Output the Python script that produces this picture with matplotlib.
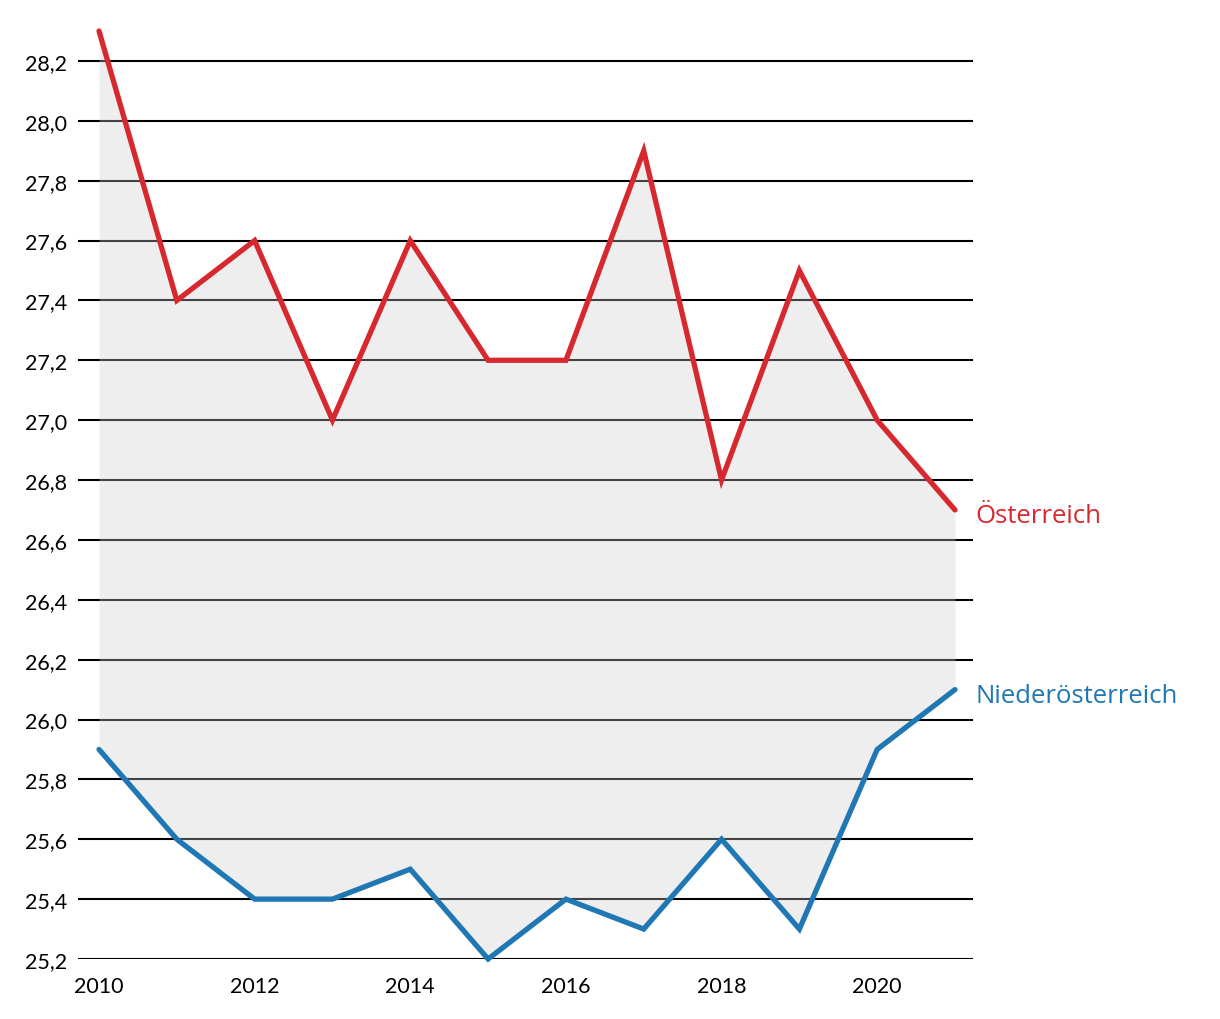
# Grafica de lineas: Oesterreich vs Niederoesterreich 2010-2021
import numpy as np
import matplotlib
matplotlib.use('Agg')
import matplotlib.pyplot as plt

plt.rcParams['font.family'] = ['Lato', 'DejaVu Sans']

# Datos
anios = [2010, 2011, 2012, 2013, 2014, 2015, 2016, 2017, 2018, 2019, 2020, 2021]
oesterreich = [28.3, 27.4, 27.6, 27.0, 27.6, 27.2, 27.2, 27.9, 26.8, 27.5, 27.0, 26.7]
niederoesterreich = [25.9, 25.6, 25.4, 25.4, 25.5, 25.2, 25.4, 25.3, 25.6, 25.3, 25.9, 26.1]
y_ticks = [25.2, 25.4, 25.6, 25.8, 26.0, 26.2, 26.4, 26.6, 26.8, 27.0, 27.2, 27.4, 27.6, 27.8, 28.0, 28.2]
x_ticks = [2010, 2012, 2014, 2016, 2018, 2020]

rojo = '#d7282f'
azul = '#1f77b4'

fig = plt.figure(figsize=(12.2, 10.2), dpi=100)
ax = fig.add_axes([78/1220, 60/1020, (973-78)/1220, (960-32)/1020])

ax.set_xlim(2010 - 21/77.8, 2021 + 18/77.8)
ax.set_ylim(25.2, 28.3)

# Lineas horizontales
for y in y_ticks:
    ax.axhline(y, color='black', lw=1.5, zorder=1)

# Area entre las dos series
ax.fill_between(anios, niederoesterreich, oesterreich, color='#cccccc', alpha=0.33,
                lw=0, zorder=2)

ax.plot(anios, oesterreich, color=rojo, lw=3.8, solid_capstyle='round',
        solid_joinstyle='miter', clip_on=False, zorder=3)
ax.plot(anios, niederoesterreich, color=azul, lw=3.8, solid_capstyle='round',
        solid_joinstyle='miter', clip_on=False, zorder=3)

ax.text(2021 + 20/77.8, oesterreich[-1] - 0.02, 'Österreich', color=rojo,
        fontsize=18.5, va='center', ha='left', family=['Open Sans', 'DejaVu Sans'])
ax.text(2021 + 20/77.8, niederoesterreich[-1] - 0.02, 'Niederösterreich', color=azul,
        fontsize=18.5, va='center', ha='left', family=['Open Sans', 'DejaVu Sans'])

ax.set_yticks(y_ticks)
ax.set_yticklabels([('%.1f' % v).replace('.', ',') for v in y_ticks])
ax.set_xticks(x_ticks)
ax.set_xticklabels([str(v) for v in x_ticks])
ax.tick_params(axis='both', length=0, labelsize=15.5)
ax.tick_params(axis='y', pad=8)
ax.tick_params(axis='x', pad=12)

for s in ax.spines.values():
    s.set_visible(False)

plt.savefig('out.png', dpi=100)
